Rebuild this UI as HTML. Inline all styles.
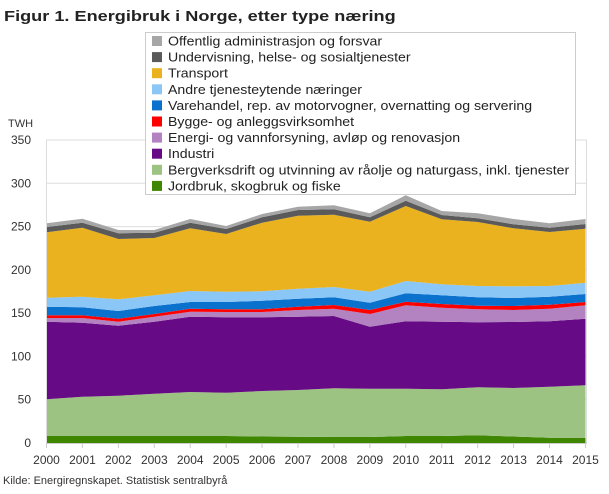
<!DOCTYPE html>
<html><head><meta charset="utf-8"><style>
body{margin:0;background:#fff;width:609px;height:489px;overflow:hidden;font-family:"Liberation Sans",sans-serif}
</style></head><body>
<svg id="s" width="609" height="489" xmlns="http://www.w3.org/2000/svg" font-family="Liberation Sans, sans-serif">
<text id="title" x="4" y="21" font-size="15" font-weight="bold" fill="#222">Figur 1. Energibruk i Norge, etter type næring</text>
<text x="8" y="127" font-size="11" fill="#333">TWH</text>
<text x="3" y="484" font-size="11" fill="#333">Kilde: Energiregnskapet. Statistisk sentralbyrå</text>
<g id="grid"></g>
<g id="areas"></g>
<g id="axes"></g>
<g id="legend"></g>
</svg>
<script>
var NS="http://www.w3.org/2000/svg";
function el(t,a,p,txt){var e=document.createElementNS(NS,t);for(var k in a)e.setAttribute(k,a[k]);if(txt)e.textContent=txt;document.getElementById(p).appendChild(e);return e;}
function stretch(e,f){var w=e.getComputedTextLength();e.setAttribute('textLength',(w*f).toFixed(1));e.setAttribute('lengthAdjust','spacingAndGlyphs');}
stretch(document.getElementById('title'),389/322);
var x0=46.5,dx=35.93,base=443;
for(var v=0;v<=350;v+=50){var y=443-v*0.8657;
 if(v>0)el('line',{x1:46,x2:587,y1:y,y2:y,stroke:'#ddd','stroke-width':1},'grid');
 el('text',{x:31,y:y+4,'font-size':12,'text-anchor':'end',fill:'#333'},'grid',String(v));}
var L=[
['#3f8700',[436,436,436,436,436,436,436.5,436.7,437,437,436,436,435.3,436.5,437.7,437.7]],
['#9dc383',[399.3,396.7,395.7,393.7,392,392.7,391,390,388.3,388.7,388.7,389.3,387.3,388,386.7,385.3]],
['#660a85',[321.7,322.7,325.7,321.7,316.7,317.3,317.3,316.7,316,326.7,321.3,321.7,322.3,322,321.3,318.7]],
['#b382c0',[318,318,321.7,316.7,311.7,312,312,310,308.7,314,305.3,307.7,309.3,310,308.7,305.3]],
['#ff0000',[315.3,315.3,318.7,314,308.7,309.3,309.3,306.7,305,310,301.7,304,305.7,306,304.7,302]],
['#0a71cd',[306.7,307.3,311,306,302,302,300.7,298.7,297.3,302.7,293.3,295.3,297.3,298,296.7,294]],
['#8ac6f6',[297.7,296.7,299.3,295.3,291,291.7,291.3,288.7,287,291.7,281,284.3,286,286.3,286,282.7]],
['#eab21f',[232.3,227.7,239,238,228.3,234,222.7,215.7,214.7,221.7,206,219.3,222,228.3,232,228.7]],
['#5a5a5a',[227,222.7,233.3,232.7,222.7,229,217.3,210,209.3,217.3,200.7,215,218.3,224.3,227.7,224]],
['#a6a6a6',[223.3,218.7,230,230,219,226,214,206.7,205.3,213.3,195.3,211,213.3,219,223.3,219]]
];
var prev=null;
for(var i=0;i<L.length;i++){var t=L[i][1],pts=[];
 for(var j=0;j<16;j++)pts.push((x0+j*dx).toFixed(1)+','+t[j]);
 for(var j=15;j>=0;j--)pts.push((x0+j*dx).toFixed(1)+','+(prev?prev[j]:base));
 el('polygon',{points:pts.join(' '),fill:L[i][0]},'areas');prev=t;}
el('line',{x1:46,x2:587,y1:443.5,y2:443.5,stroke:'#ccc'},'axes');
el('line',{x1:46.5,x2:46.5,y1:140,y2:443,stroke:'#ddd'},'axes');
el('line',{x1:586.5,x2:586.5,y1:140,y2:443,stroke:'#ddd'},'axes');
for(var j=0;j<16;j++){var x=x0+j*dx;el('line',{x1:x,x2:x,y1:443,y2:448,stroke:'#ccc'},'axes');
 el('text',{x:x,y:464,'font-size':12,'text-anchor':'middle',fill:'#333'},'axes',String(2000+j));}
el('rect',{x:145.5,y:32.5,width:430,height:162,fill:'#fff',stroke:'#ccc'},'legend');
var names=['Offentlig administrasjon og forsvar','Undervisning, helse- og sosialtjenester','Transport','Andre tjenesteytende næringer','Varehandel, rep. av motorvogner, overnatting og servering','Bygge- og anleggsvirksomhet','Energi- og vannforsyning, avløp og renovasjon','Industri','Bergverksdrift og utvinning av råolje og naturgass, inkl. tjenester','Jordbruk, skogbruk og fiske'];
for(var k=0;k<10;k++){var y=41+k*16.1;var c=L[9-k][0];
 el('rect',{x:152,y:y-5,width:10,height:10,fill:c},'legend');
 var te=el('text',{x:168,y:y+4.5,'font-size':12.5,fill:'#222'},'legend',names[k]);
 stretch(te,1.13);}
</script>
</body></html>
